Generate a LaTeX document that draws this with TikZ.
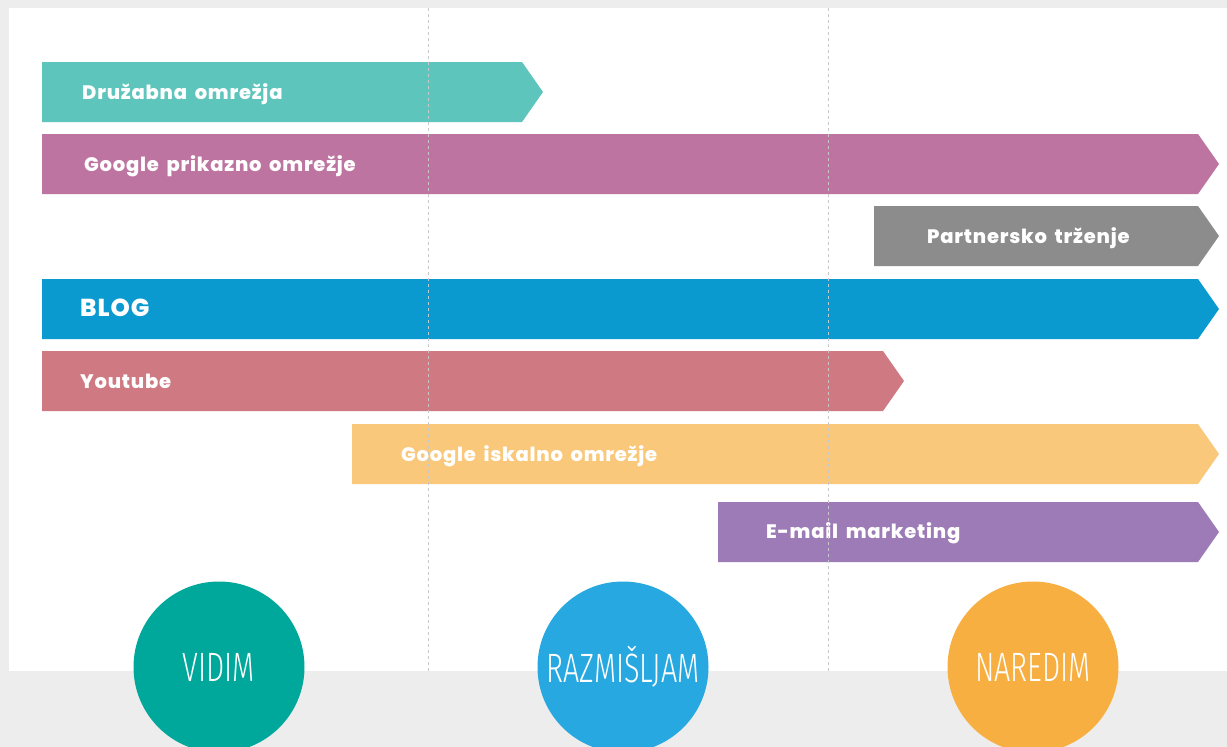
\documentclass[tikz,border=0pt]{standalone}
\usepackage{fontspec}
\usetikzlibrary{positioning}

\newfontfamily\barfont[BoldFont={* ExtraBold},LetterSpace=4,WordSpace=1.7]{Poppins}
\newfontfamily\handfont[UprightFont={* Light},FakeStretch=0.7]{Fira Sans}

\definecolor{paper}{HTML}{EDEDED}
\definecolor{guidegray}{HTML}{C8C8C8}
\definecolor{tealbar}{HTML}{5EC5BD}
\definecolor{plumbar}{HTML}{BE74A0}
\definecolor{graybar}{HTML}{8C8C8C}
\definecolor{bluebar}{HTML}{0A9AD0}
\definecolor{rosebar}{HTML}{CF7A82}
\definecolor{sandbar}{HTML}{FAC87B}
\definecolor{lilacbar}{HTML}{9C7BB6}
\definecolor{seeteal}{HTML}{00A79B}
\definecolor{thinkblue}{HTML}{27A8E0}
\definecolor{doorange}{HTML}{F8AF42}

% channel bar: colour, left x, right x (before the tip), top y
\newcommand{\channelbar}[4]{%
  \fill[#1] (#2,#4) -- (#3,#4) -- ++(21,30) -- ++(-21,30) -- (#2,#4+60) -- cycle;}

\begin{document}
\begin{tikzpicture}[x=1pt,y=-1pt,
    lbl/.style={anchor=base west,text=white,inner sep=0pt,
      font=\barfont\bfseries\fontsize{19.5}{19.5}\selectfont},
    stage/.style={circle,minimum size=171pt,inner sep=0pt,text=white,
      font=\handfont\fontsize{41}{41}\selectfont},
    guide/.style={guidegray,line width=1pt,dash pattern=on 3pt off 3pt}]
  \useasboundingbox (0,0) rectangle (1227,747);
  \clip (0,0) rectangle (1227,747);
  \fill[paper] (0,0) rectangle (1227,747);
  \fill[white] (9,8) rectangle (1227,671);

  % bars
  \channelbar{tealbar}{42}{522}{62}
  \channelbar{plumbar}{42}{1198}{134}
  \channelbar{graybar}{874}{1198}{206}
  \channelbar{bluebar}{42}{1198}{279}
  \channelbar{rosebar}{42}{883}{351}
  \channelbar{sandbar}{352}{1198}{424}
  \channelbar{lilacbar}{718}{1198}{502}

  \node[lbl] (druzabna) at (82,99) {Družabna omrežja};
  \node[lbl] (prikazno) at (84,171) {Google prikazno omrežje};
  \node[lbl] (partner) at (927,243) {Partnersko trženje};
  \node[lbl,font=\barfont\bfseries\fontsize{24.5}{24.5}\selectfont] (blog) at (80,316) {BLOG};
  \node[lbl] (youtube) at (80,388) {Youtube};
  \node[lbl] (iskalno) at (401,461) {Google iskalno omrežje};
  \node[lbl] (email) at (766,538) {E-mail marketing};

  % phase separators
  \draw[guide] (428,8) -- (428,671);
  \draw[guide] (828,8) -- (828,671);

  % phases
  \node[stage,fill=seeteal] (vidim) at (219,667) {\raisebox{-6pt}{VIDIM}};
  \node[stage,fill=thinkblue] (razmisljam) at (623,667) {\raisebox{-6pt}{RAZMIŠLJAM}};
  \node[stage,fill=doorange] (naredim) at (1033,667) {\raisebox{-6pt}{NAREDIM}};
\end{tikzpicture}
\end{document}
